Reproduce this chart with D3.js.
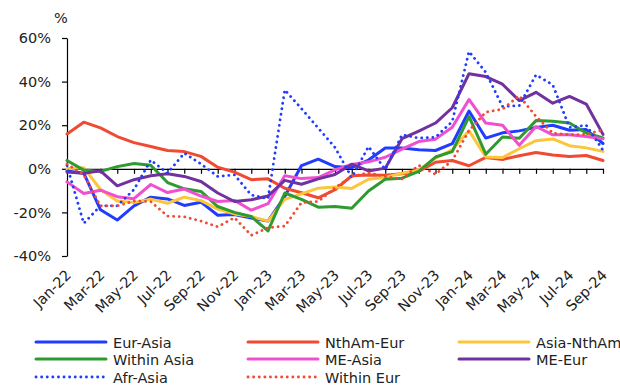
<!DOCTYPE html>
<html>
<head>
<meta charset="utf-8">
<script src="https://cdn.jsdelivr.net/npm/d3@7"></script>
<style>
  html, body { margin: 0; padding: 0; background: #fff; }
  svg { display: block; }
  text { font-family: "DejaVu Sans", Verdana, sans-serif; fill: #222; }
</style>
</head>
<body>
<svg id="chart" width="620" height="387"></svg>
<script>
// Monthly categories
const months = [
  "Jan-22","Feb-22","Mar-22","Apr-22","May-22","Jun-22","Jul-22","Aug-22","Sep-22","Oct-22","Nov-22","Dec-22",
  "Jan-23","Feb-23","Mar-23","Apr-23","May-23","Jun-23","Jul-23","Aug-23","Sep-23","Oct-23","Nov-23","Dec-23",
  "Jan-24","Feb-24","Mar-24","Apr-24","May-24","Jun-24","Jul-24","Aug-24","Sep-24"
];

// Year-on-year change by trade lane, %
const eurAsia    = [-1, -2, -18.8, -23.5, -17, -13, -13.8, -16.8, -15.3, -21.3, -21, -22.6, -24, -12.7, 1.5, 4.4, 1, 0.5, 4, 9.5, 9.5, 8.7, 8.4, 11.5, 26.5, 14.1, 16.5, 17.4, 19, 20, 17.7, 18, 11.6];
const nthAmEur   = [16, 21.4, 18.8, 14.8, 12, 10.2, 8.4, 7.9, 5.7, 0.7, -1.5, -5, -4.6, -8.9, -11, -13.3, -9.6, -3.2, -2.8, -3, -2.3, -1.2, 3, 3.8, 1.4, 5.2, 4.3, 6, 7.5, 6.3, 5.6, 6.1, 3.8];
const asiaNthAm  = [0, 0.5, -9.5, -14.8, -15.5, -13.9, -15.8, -13, -14.6, -18.5, -20.7, -21.9, -24, -14, -11.5, -8.9, -8.4, -9, -4.8, -4, -2, -0.5, 4.9, 8.7, 17.5, 5.4, 5.2, 9.2, 12.9, 13.7, 10.6, 9.6, 8];
const withinAsia = [3.8, -0.6, -1.2, 1, 2.4, 1.6, -6.3, -9.2, -10.4, -17.3, -20, -21.9, -28.5, -11.1, -14, -17.6, -17.3, -18.1, -10.2, -4.8, -4.3, -1.2, 5.4, 7.9, 24, 6.7, 14.6, 14, 22.1, 21.8, 21, 16.4, 14.2];
const meAsia     = [-6, -11.3, -9.8, -12.8, -13.7, -7.2, -10.9, -9.3, -12.5, -15, -14.5, -19, -16, -3.2, -4.5, -4, -0.5, 2, 3.2, 5.3, 9, 12.5, 13.6, 19.1, 31.8, 21, 20, 10.8, 19.4, 15.6, 15.6, 14.8, 13.8];
const meEur      = [-1.5, -2.1, -0.9, -7.8, -5, -3.2, -2.3, -3.5, -5.8, -11.1, -15, -14.2, -12.5, -5.3, -7.1, -4.6, -2.6, 2.1, -1, 0.3, 13.8, 17.3, 21, 28, 43.6, 42.3, 38.8, 31.3, 35.1, 30.1, 33.2, 29.7, 15.8];
const afrAsia    = [1.5, -25, -17, -17, -9.5, 4, -2, 7.2, 2.2, -3.5, -2.8, -12, -13.7, 36.2, 27.6, 18.7, 9.8, -4, 10.2, -0.3, 15.6, 14.1, 14.5, 21.7, 53.8, 44.3, 28.6, 29, 43.1, 38.5, 19, 20, 8.5];
const withinEur  = [2.2, -2.8, -17, -17, -14.8, -15, -21.7, -22, -24, -26.6, -22.4, -30.5, -27, -26.3, -15.5, -15, -8.7, -3.5, -1.8, -3.6, -4.6, 1.6, -2.5, 3.8, 17.5, 26, 27.4, 33.5, 24, 16.4, 15.6, 15.8, 17.8];

const seriesNames  = ["Eur-Asia", "NthAm-Eur", "Asia-NthAm", "Within Asia", "ME-Asia", "ME-Eur", "Afr-Asia", "Within Eur"];
const seriesValues = [eurAsia, nthAmEur, asiaNthAm, withinAsia, meAsia, meEur, afrAsia, withinEur];
const seriesColors = ["#1f3cff", "#f04a33", "#fcc53a", "#2e9a30", "#f04fd0", "#7132a0", "#1f3cff", "#f04a33"];
const seriesDotted = [false, false, false, false, false, false, true, true];

const yTicks = [-40, -20, 0, 20, 40, 60];
const xLabels = months.filter((m, i) => i % 2 === 0);

const FONT = 14.5;
const svg = d3.select("#chart");

const x = d3.scalePoint().domain(months).range([67, 603]);
const y = d3.scaleLinear().domain([-40, 60]).range([256, 38]);

// Y axis
const yAxis = svg.append("g")
  .attr("transform", "translate(67,0)")
  .call(d3.axisLeft(y).tickValues(yTicks).tickFormat(d => d + "%").tickSize(5).tickSizeOuter(0).tickPadding(11));
yAxis.selectAll("path, line").attr("stroke", "#000").attr("stroke-width", 1.2);
yAxis.selectAll("text").attr("font-size", FONT).attr("fill", "#222").style("font-family", "\"DejaVu Sans\", Verdana, sans-serif");

// Unit label
svg.append("text").attr("x", 54).attr("y", 23).attr("font-size", FONT).text("%");

// X axis along the zero line
const xAxis = svg.append("g")
  .attr("transform", `translate(0,${y(0)})`)
  .call(d3.axisBottom(x).tickSize(5).tickSizeOuter(0).tickFormat(""));
xAxis.selectAll("path, line").attr("stroke", "#000").attr("stroke-width", 1.2);

// Rotated month labels below the plot
svg.append("g").selectAll("text")
  .data(xLabels)
  .join("text")
  .attr("text-anchor", "end")
  .attr("font-size", FONT)
  .attr("transform", d => `translate(${x(d) + 5},${y(-40) + 20}) rotate(-45)`)
  .text(d => d);

// Series lines
const line = d3.line()
  .x((d, i) => x(months[i]))
  .y(d => y(d));

const plot = svg.append("g");
seriesValues.forEach((vals, k) => {
  plot.append("path")
    .datum(vals)
    .attr("fill", "none")
    .attr("stroke", seriesColors[k])
    .attr("stroke-width", seriesDotted[k] ? 2.8 : 3)
    .attr("stroke-linejoin", "round")
    .attr("stroke-linecap", "round")
    .attr("stroke-dasharray", seriesDotted[k] ? "0.1,5.5" : null)
    .attr("d", line);
});

// Legend: three columns, three rows
const legendCols = [36, 248, 459];
const legendRows = [342, 359, 377];
const legend = svg.append("g");
seriesNames.forEach((name, k) => {
  const cx = legendCols[k % 3];
  const cy = legendRows[Math.floor(k / 3)];
  legend.append("line")
    .attr("x1", cx).attr("x2", cx + 70)
    .attr("y1", cy).attr("y2", cy)
    .attr("stroke", seriesColors[k])
    .attr("stroke-width", seriesDotted[k] ? 2.8 : 3)
    .attr("stroke-linecap", "round")
    .attr("stroke-dasharray", seriesDotted[k] ? "0.1,5.5" : null);
  legend.append("text")
    .attr("x", cx + 77).attr("y", cy + 5.5)
    .attr("font-size", FONT)
    .text(name);
});
</script>
</body>
</html>
